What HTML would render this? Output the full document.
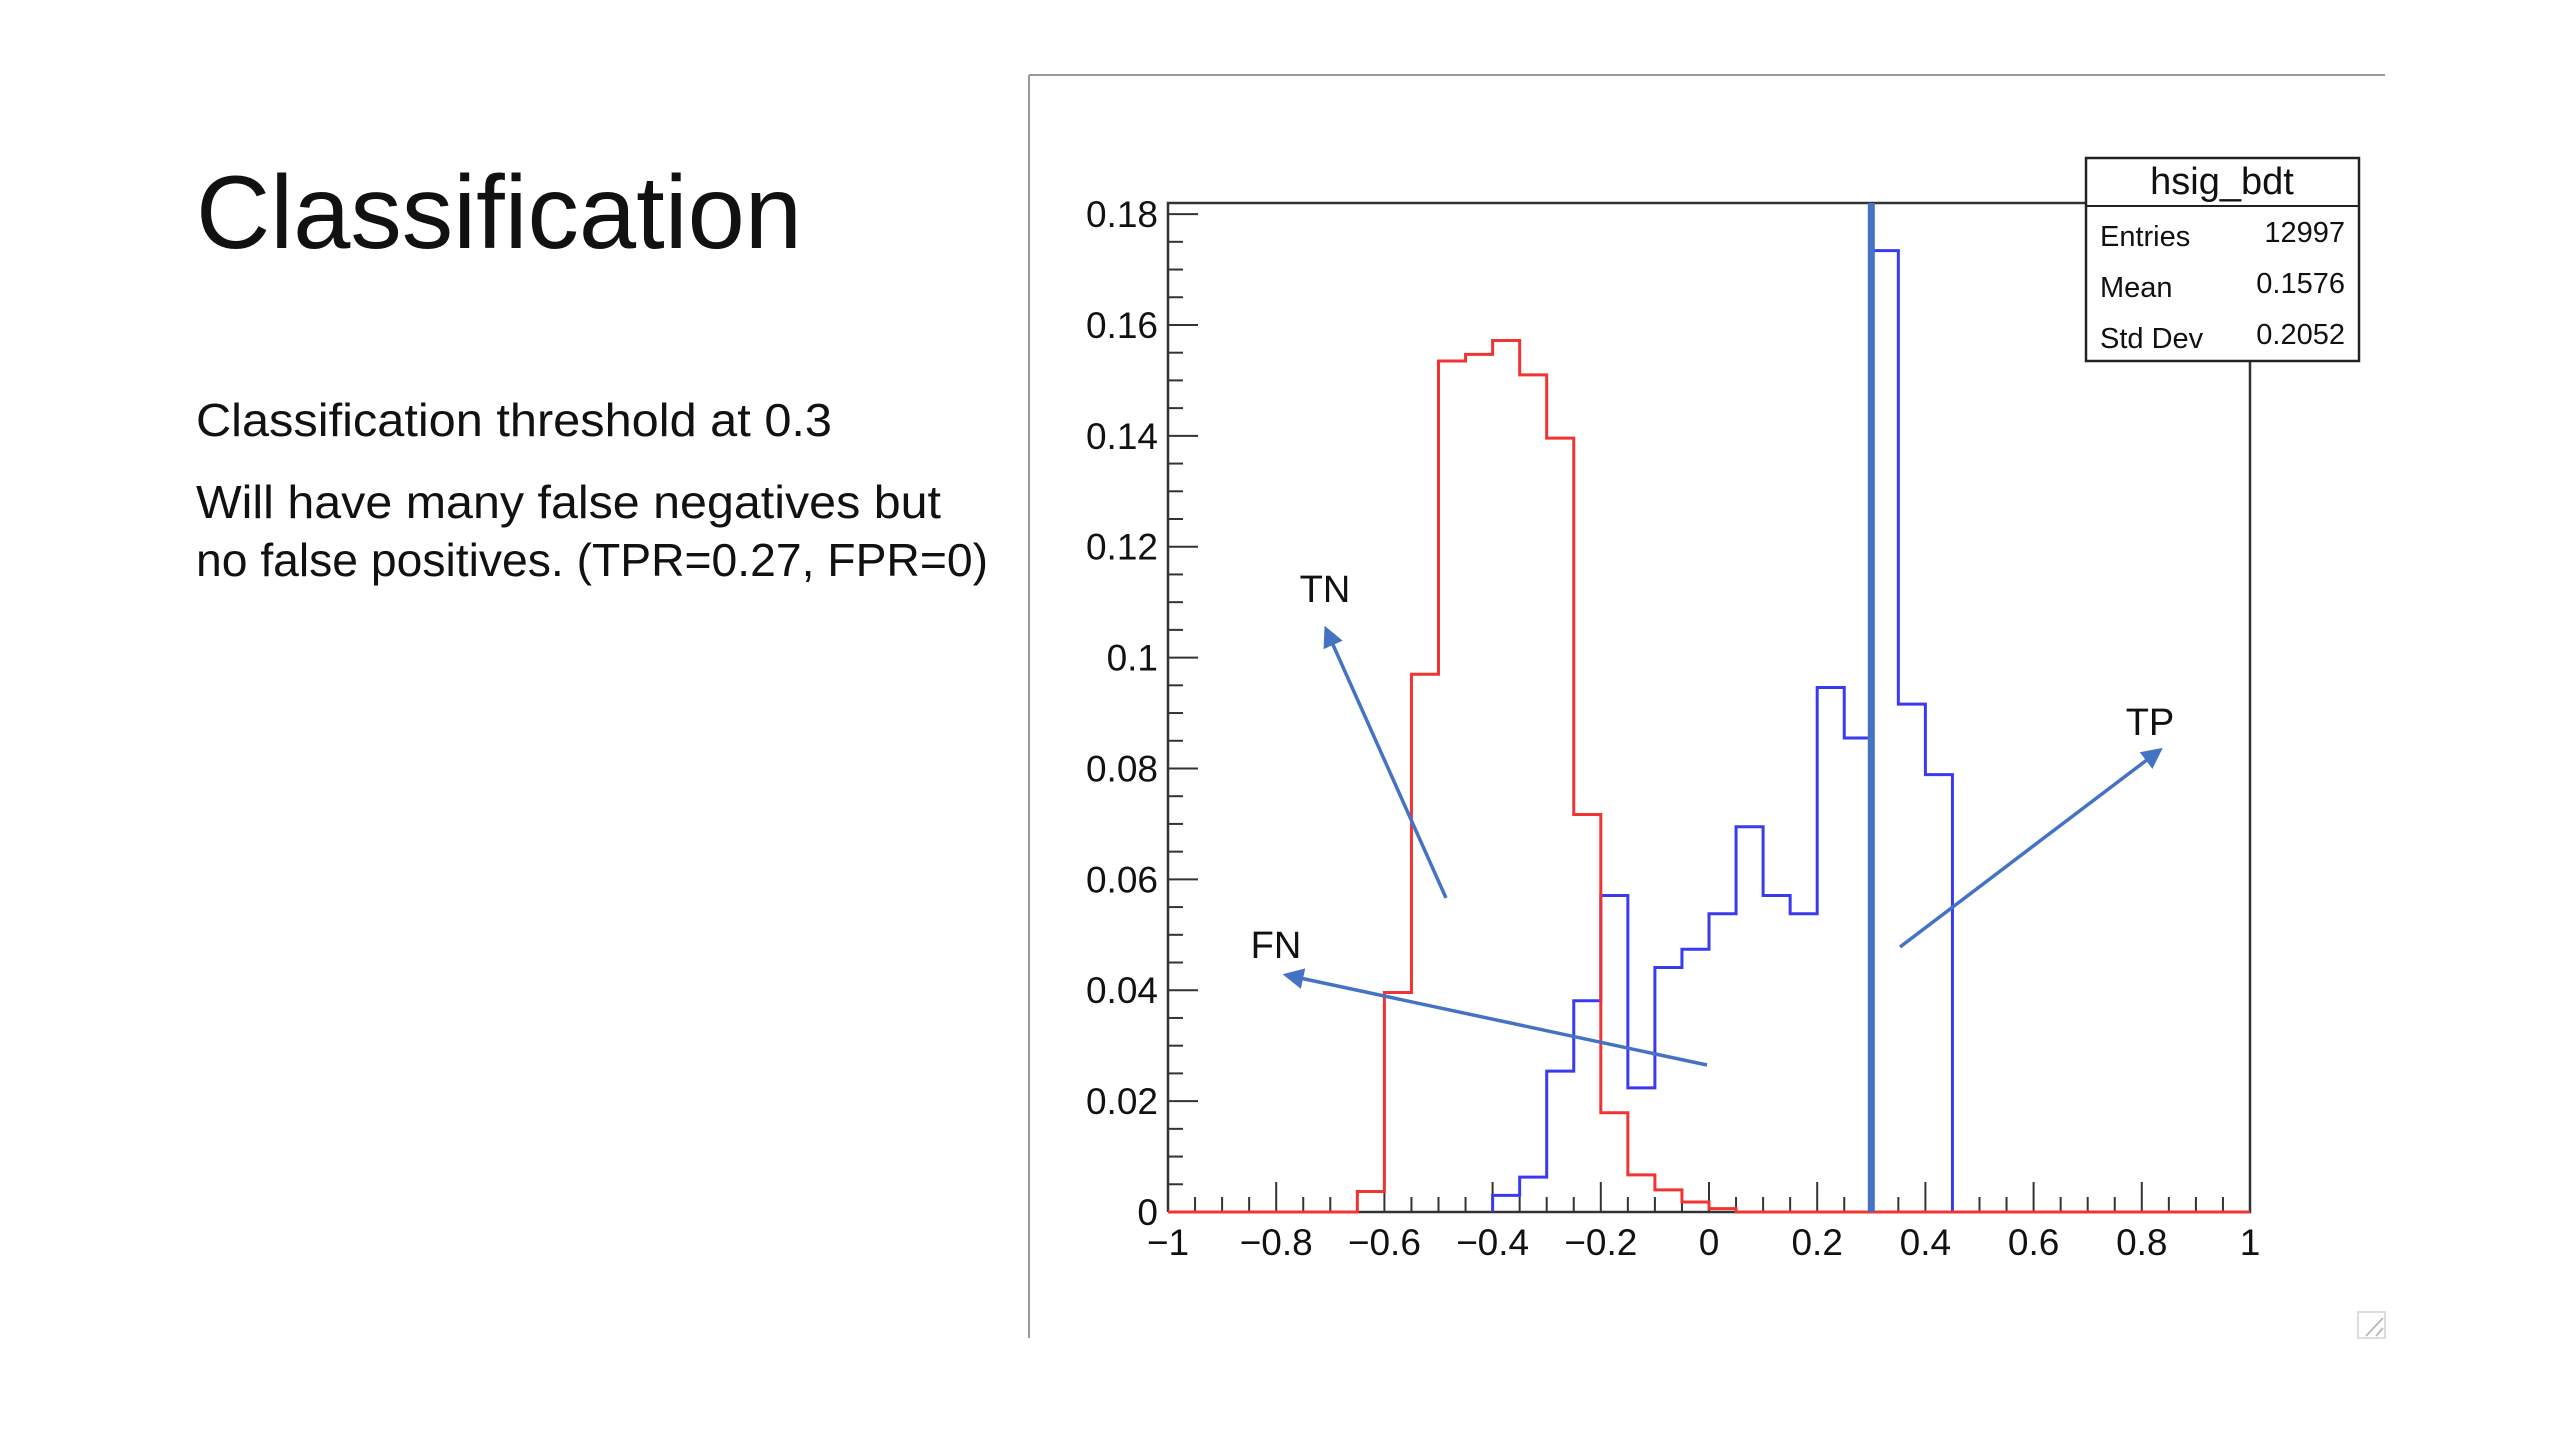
<!DOCTYPE html>
<html><head><meta charset="utf-8"><style>
html,body{margin:0;padding:0;background:#fff;width:2560px;height:1440px;overflow:hidden}
svg text{font-family:"Liberation Sans",sans-serif}
</style></head><body>
<svg id="page" width="2560" height="1440" viewBox="0 0 2560 1440" xmlns="http://www.w3.org/2000/svg">
<text x="196" y="248" font-size="104" textLength="606" lengthAdjust="spacingAndGlyphs" fill="#111">Classification</text>
<text x="196" y="436" font-size="46" textLength="636" lengthAdjust="spacingAndGlyphs" fill="#111">Classification threshold at 0.3</text>
<text x="196" y="518" font-size="46" textLength="745" lengthAdjust="spacingAndGlyphs" fill="#111">Will have many false negatives but</text>
<text x="196" y="576" font-size="46" textLength="792" lengthAdjust="spacingAndGlyphs" fill="#111">no false positives. (TPR=0.27, FPR=0)</text>
<g stroke="#999" stroke-width="2">
<line x1="1029" y1="75" x2="2385" y2="75"/><line x1="1029" y1="75" x2="1029" y2="1338"/>
</g>
<g stroke="#bbb" stroke-width="2">
<rect x="2358" y="1312" width="27" height="26" fill="none" stroke="#ddd"/>
<line x1="2366" y1="1336" x2="2383" y2="1318"/><line x1="2376" y1="1336" x2="2383" y2="1328"/>
</g>
<g id="chart"></g>
</svg>
<script>
const binLow = -1, binWidth = 0.05;
const bkgValues = [0,0,0,0,0,0,0,0.0037,0.0396,0.097,0.1535,0.1547,0.1572,0.151,0.1396,0.0717,0.0179,0.0067,0.004,0.0018,0.0006,0,0,0,0,0,0,0,0,0,0,0,0,0,0,0,0,0,0,0];
const sigValues = [0,0,0,0,0,0,0,0,0,0,0,0,0.003,0.0063,0.0254,0.0381,0.0571,0.0224,0.0441,0.0474,0.0538,0.0695,0.0571,0.0538,0.0946,0.0855,0.1734,0.0916,0.0789,0,0,0,0,0,0,0,0,0,0,0];
const xTicks = [-1,-0.8,-0.6,-0.4,-0.2,0,0.2,0.4,0.6,0.8,1];
const xTickLabels = ["\u22121","\u22120.8","\u22120.6","\u22120.4","\u22120.2","0","0.2","0.4","0.6","0.8","1"];
const yTicks = [0,0.02,0.04,0.06,0.08,0.1,0.12,0.14,0.16,0.18];
const yTickLabels = ["0","0.02","0.04","0.06","0.08","0.1","0.12","0.14","0.16","0.18"];
const threshold = 0.3;
const statNames = ["Entries","Mean","Std Dev"];
const statValues = ["12997","0.1576","0.2052"];

const L=1168,R=2250,T=203,B=1212,xmin=-1,xmax=1,ymin=0,ymax=0.182;
const sx=v=>L+(v-xmin)/(xmax-xmin)*(R-L);
const sy=v=>B-(v-ymin)/(ymax-ymin)*(B-T);
const NS="http://www.w3.org/2000/svg";
const g=document.getElementById('chart');
function mk(tag,attrs,parent){const e=document.createElementNS(NS,tag);for(const k in attrs)e.setAttribute(k,attrs[k]);(parent||g).appendChild(e);return e;}

let e=mk('path',{d:`M${L},${B} L${L},${T} L2086,${T} M${R},361 L${R},${B} L${L},${B}`,fill:'none',stroke:'#333','stroke-width':2.5});



for(let v=0;v<=0.18+1e-9;v+=0.005){
  const major=Math.abs(v/0.02-Math.round(v/0.02))<1e-6;
  e=mk('line',{x1:L,x2:L+(major?30:15),y1:sy(v),y2:sy(v),stroke:'#333','stroke-width':2});
  
  
}
yTicks.forEach((v,i)=>{
  e=mk('text',{x:L-10,y:sy(v)+13,'font-size':37,'text-anchor':'end',fill:'#111'});
  e.textContent=yTickLabels[i];
  
  
});
for(let k=0;k<=40;k++){
  const v=-1+k*0.05;
  const major=k%4===0;
  e=mk('line',{x1:sx(v),x2:sx(v),y1:B,y2:B-(major?30:15),stroke:'#333','stroke-width':2});
  
  
}
xTicks.forEach((v,i)=>{
  e=mk('text',{x:sx(v),y:B+43,'font-size':37,'text-anchor':'middle',fill:'#111'});
  e.textContent=xTickLabels[i];
  
  
});

function stepPath(vals,trim){
  let a=0,b=vals.length-1;
  if(trim){while(a<b&&vals[a]===0)a++;while(b>a&&vals[b]===0)b--;}
  let d=`M${sx(binLow+a*binWidth)},${sy(0)}`;
  for(let i=a;i<=b;i++){const v=vals[i];const x0=sx(binLow+i*binWidth),x1=sx(binLow+(i+1)*binWidth);d+=` L${x0},${sy(v)} L${x1},${sy(v)}`;}
  d+=` L${sx(binLow+(b+1)*binWidth)},${sy(0)}`;
  return d;
}
e=mk('path',{d:stepPath(sigValues,true),fill:'none',stroke:'#3a3af0','stroke-width':3});


e=mk('path',{d:stepPath(bkgValues,false),fill:'none',stroke:'#f03434','stroke-width':3});



e=mk('line',{x1:sx(threshold),x2:sx(threshold),y1:T,y2:B,stroke:'#4472c4','stroke-width':7});



e=mk('rect',{x:2086,y:158,width:273,height:203,fill:'#fff',stroke:'#222','stroke-width':2.5});


e=mk('line',{x1:2086,x2:2359,y1:206,y2:206,stroke:'#222','stroke-width':2});


e=mk('text',{x:2222,y:194,'font-size':38,'text-anchor':'middle',fill:'#111'});
e.textContent='hsig_bdt';


statNames.forEach((n,i)=>{
  const y=246+i*51;
  e=mk('text',{x:2100,y:y,'font-size':29,fill:'#111'});e.textContent=n;
  
  
  e=mk('text',{x:2345,y:y-4,'font-size':29,'text-anchor':'end',fill:'#111'});e.textContent=statValues[i];
  
  
});

mk('defs',{}).innerHTML='<marker id="ah" markerWidth="6" markerHeight="6" refX="5" refY="3" orient="auto" markerUnits="strokeWidth"><path d="M0,0 L6,3 L0,6 z" fill="#4472c4"/></marker>';
[["tn",1446,898,1326,629],["fn",1707,1065,1286,975],["tp",1900,947,2160,750]].forEach(a=>{
  e=mk('line',{x1:a[1],y1:a[2],x2:a[3],y2:a[4],stroke:'#4472c4','stroke-width':3.5,'marker-end':'url(#ah)'});
  
  
});
[["TN",1325,602],["FN",1276,958],["TP",2150,735]].forEach(a=>{
  e=mk('text',{x:a[1],y:a[2],'font-size':38,'text-anchor':'middle',fill:'#111'});e.textContent=a[0];
  
  
});
</script>
</body></html>
